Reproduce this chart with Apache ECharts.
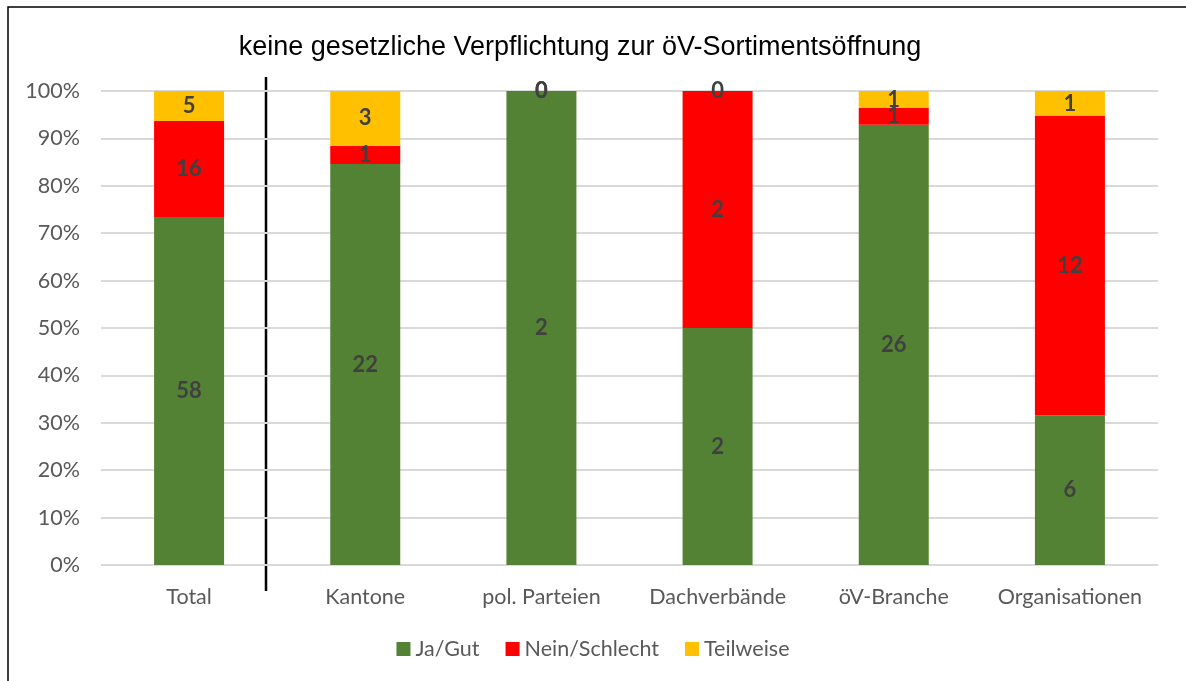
<!DOCTYPE html>
<html><head><meta charset="utf-8">
<script src="https://cdn.jsdelivr.net/npm/echarts@6/dist/echarts.min.js"></script>
<style>html,body{margin:0;padding:0;background:#fff}#c{width:1186px;height:681px}</style>
</head><body><div id="c"></div>
<script>
const categories = ['Total', 'Kantone', 'pol. Parteien', 'Dachverbände', 'öV-Branche', 'Organisationen'];
const jaGut = [58, 22, 2, 2, 26, 6];
const neinSchlecht = [16, 1, 0, 2, 1, 12];
const teilweise = [5, 3, 0, 0, 1, 1];
const seriesNames = ['Ja/Gut', 'Nein/Schlecht', 'Teilweise'];
const colors = ['#548235', '#FF0000', '#FFC000'];
const title = 'keine gesetzliche Verpflichtung zur öV-Sortimentsöffnung';

const totals = categories.map((_, i) => jaGut[i] + neinSchlecht[i] + teilweise[i]);
const raw = [jaGut, neinSchlecht, teilweise];

const chart = echarts.init(document.getElementById('c'), null, {renderer: 'canvas'});
const option = {
  animation: false,
  color: colors,
  title: {
    text: title, left: 575, top: 29, textAlign: 'center',
    textStyle: {fontFamily: 'Liberation Sans', fontSize: 27, fontWeight: 'normal', color: '#000'}
  },
  legend: {
    data: seriesNames, bottom: 16, left: 'center', itemWidth: 14, itemHeight: 14, itemGap: 26,
    icon: 'rect',
    textStyle: {fontFamily: 'Lato', fontSize: 21.5, color: '#595959'}
  },
  grid: {left: 101, right: 28, top: 91, bottom: 116},
  xAxis: {
    type: 'category', data: categories,
    axisLine: {show: false}, axisTick: {show: false},
    axisLabel: {interval: 0, fontFamily: 'Lato', fontSize: 21.5, color: '#595959', margin: 21}
  },
  yAxis: {
    type: 'value', min: 0, max: 100, interval: 10,
    axisLabel: {formatter: '{value}%', fontFamily: 'Lato', fontSize: 21.5, color: '#595959', margin: 21},
    splitLine: {lineStyle: {color: '#d9d9d9', width: 2}},
    axisLine: {show: false}, axisTick: {show: false}
  },
  series: raw.map((arr, s) => ({
    name: seriesNames[s], type: 'bar', stack: 'a', barWidth: 70,
    data: arr.map((v, i) => ({value: v / totals[i] * 100, count: v})),
    label: {
      show: true, position: 'inside',
      formatter: p => String(p.data.count),
      fontFamily: 'Lato', fontSize: 22, fontWeight: 'bold', color: '#404040'
    }
  })),
  graphic: [
    {type: 'rect', shape: {x: 8, y: 7, width: 1186, height: 700}, style: {fill: 'none', stroke: '#000', lineWidth: 1.5}, silent: true},
    {type: 'line', shape: {x1: 266, y1: 77, x2: 266, y2: 591}, style: {stroke: '#000', lineWidth: 2.5}, silent: true}
  ]
};
chart.setOption(option);
</script></body></html>
